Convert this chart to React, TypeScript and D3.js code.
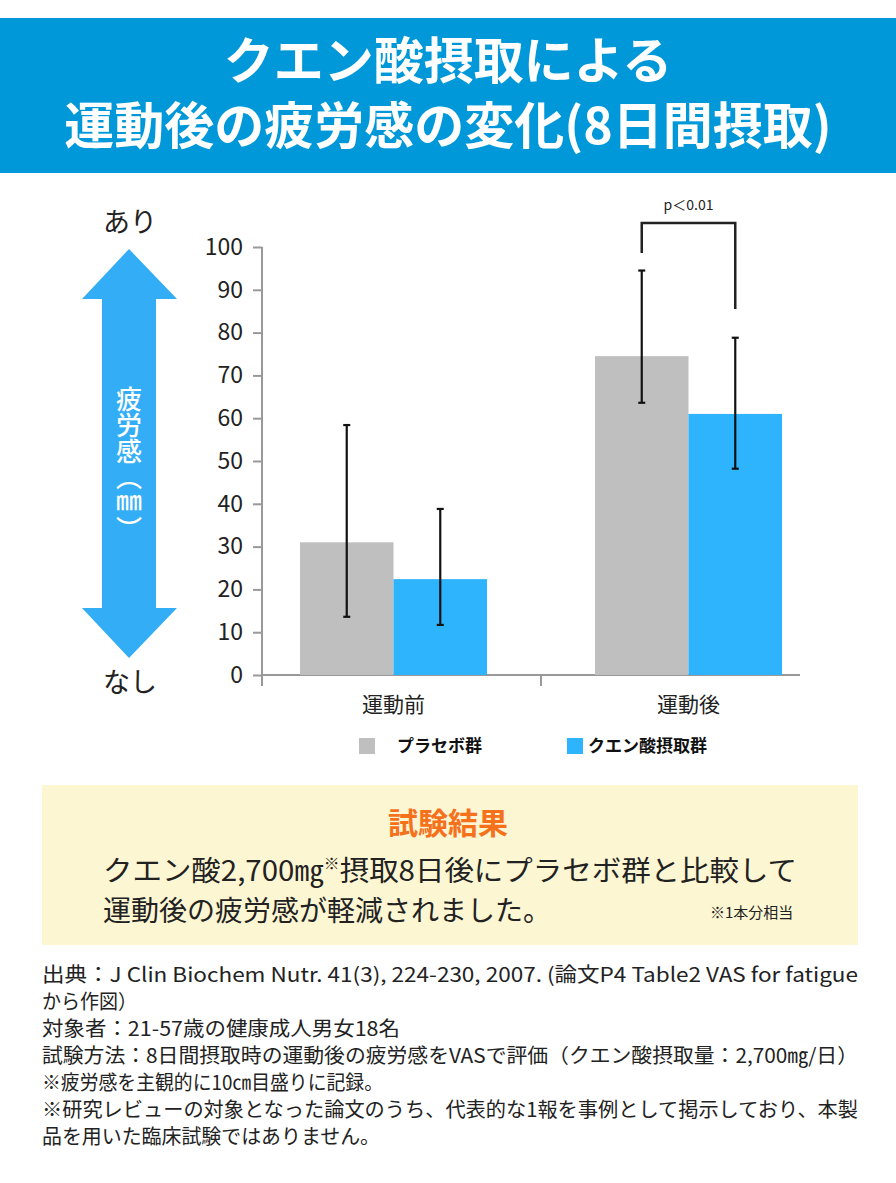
import React, { useEffect, useRef } from "react";
import * as d3 from "d3";

// chart data
const categories = ["運動前", "運動後"];
const seriesNames = ["プラセボ群", "クエン酸摂取群"];
const placeboMean = [31, 74.5];
const placeboLow = [13.6, 63.6];
const placeboHigh = [58.4, 94.5];
const citricMean = [22.4, 61];
const citricLow = [11.7, 48.2];
const citricHigh = [38.8, 78.8];
const yTicks = [0, 10, 20, 30, 40, 50, 60, 70, 80, 90, 100];
const seriesColors = ["#bfbfbf", "#2eb4fd"];

const titleLines = ["クエン酸摂取による", "運動後の疲労感の変化(8日間摂取)"];
const resultLines = ["クエン酸2,700㎎", "摂取8日後にプラセボ群と比較して", "運動後の疲労感が軽減されました。"];
const noteLines = [
    "出典：J Clin Biochem Nutr. 41(3), 224-230, 2007. (論文P4 Table2 VAS for fatigue",
    "から作図）",
    "対象者：21-57歳の健康成人男女18名",
    "試験方法：8日間摂取時の運動後の疲労感をVASで評価（クエン酸摂取量：2,700㎎/日）",
    "※疲労感を主観的に10㎝目盛りに記録。",
    "※研究レビューの対象となった論文のうち、代表的な1報を事例として掲示しており、本製",
    "品を用いた臨床試験ではありません。",
];
const noteWidths = [816, 95, 358, 816, 341, 816, 338];

const FONT = "'Noto Sans CJK JP', 'Noto Sans', sans-serif";

const App = () => {
    const ref = useRef<SVGSVGElement>(null);

    useEffect(() => {
        const width = 896;
        const height = 1183;
        const svg = d3.select(ref.current);
        svg.selectAll("*").remove();
        svg.attr("width", width).attr("height", height).style("font-family", FONT);

        // header band
        svg.append("rect").attr("x", 0).attr("y", 18).attr("width", width).attr("height", 155).attr("fill", "#0098d9");
        titleLines.forEach((t, i) => {
            svg.append("text")
                .attr("x", width / 2)
                .attr("y", 79 + i * 65)
                .attr("text-anchor", "middle")
                .attr("fill", "#fff")
                .attr("font-size", 50)
                .attr("font-weight", 700)
                .text(t);
        });

        // scales
        const y = d3.scaleLinear().domain([0, 100]).range([675, 247]);
        const x0 = d3.scaleBand().domain(categories).range([246, 836]).paddingInner(0.366).paddingOuter(0.183);
        const x1 = d3.scaleBand().domain(seriesNames).range([0, x0.bandwidth()]);

        // y axis
        const yAxis = svg.append("g").attr("transform", "translate(262,0)")
            .call(d3.axisLeft(y).tickValues(yTicks).tickSize(9).tickPadding(10));
        yAxis.select(".domain").remove();
        yAxis.selectAll(".tick line").attr("stroke", "#999").attr("stroke-width", 2);
        yAxis.selectAll(".tick text")
            .attr("fill", "#222")
            .attr("font-size", 23)
            .attr("font-family", FONT);
        svg.append("line").attr("x1", 262).attr("x2", 262).attr("y1", y(100)).attr("y2", 686)
            .attr("stroke", "#999").attr("stroke-width", 2);

        // x axis
        svg.append("line").attr("x1", 262).attr("x2", 800).attr("y1", y(0)).attr("y2", y(0))
            .attr("stroke", "#999").attr("stroke-width", 2);
        const sep = ((x0(categories[0]) as number) + x0.bandwidth() + (x0(categories[1]) as number)) / 2;
        svg.append("line").attr("x1", sep).attr("x2", sep).attr("y1", y(0)).attr("y2", y(0) + 11)
            .attr("stroke", "#999").attr("stroke-width", 2);
        categories.forEach((c) => {
            svg.append("text")
                .attr("x", (x0(c) as number) + x0.bandwidth() / 2)
                .attr("y", 712)
                .attr("text-anchor", "middle")
                .attr("fill", "#222")
                .attr("font-size", 21)
                .text(c);
        });

        // bars + error bars
        const series = [
            { name: seriesNames[0], mean: placeboMean, low: placeboLow, high: placeboHigh, color: seriesColors[0] },
            { name: seriesNames[1], mean: citricMean, low: citricLow, high: citricHigh, color: seriesColors[1] },
        ];
        series.forEach((s) => {
            categories.forEach((c, i) => {
                const bx = (x0(c) as number) + (x1(s.name) as number);
                svg.append("rect")
                    .attr("x", bx)
                    .attr("y", y(s.mean[i]))
                    .attr("width", x1.bandwidth())
                    .attr("height", y(0) - y(s.mean[i]))
                    .attr("fill", s.color);
            });
        });
        series.forEach((s) => {
            categories.forEach((c, i) => {
                const cx = (x0(c) as number) + (x1(s.name) as number) + x1.bandwidth() / 2;
                const g = svg.append("g").attr("stroke", "#111").attr("stroke-width", 2.2);
                g.append("line").attr("x1", cx).attr("x2", cx).attr("y1", y(s.high[i])).attr("y2", y(s.low[i]));
                [s.high[i], s.low[i]].forEach((v) => {
                    g.append("line").attr("x1", cx - 3.5).attr("x2", cx + 3.5).attr("y1", y(v)).attr("y2", y(v));
                });
            });
        });

        // significance bracket over 運動後
        const bL = (x0(categories[1]) as number) + (x1(seriesNames[0]) as number) + x1.bandwidth() / 2;
        const bR = (x0(categories[1]) as number) + (x1(seriesNames[1]) as number) + x1.bandwidth() / 2;
        const bracket = d3.line<[number, number]>()([
            [bL, y(98.6)],
            [bL, y(105.6)],
            [bR, y(105.6)],
            [bR, y(85.5)],
        ]);
        svg.append("path").attr("d", bracket).attr("fill", "none").attr("stroke", "#222").attr("stroke-width", 2.5);
        svg.append("text").attr("x", (bL + bR) / 2).attr("y", 210).attr("text-anchor", "middle")
            .attr("fill", "#222").attr("font-size", 14).text("p＜0.01");

        // double arrow
        const arrow = "M129,249 L177,299 L156,299 L156,608 L177,608 L129,658 L82,608 L102,608 L102,299 L82,299 Z";
        svg.append("path").attr("d", arrow).attr("fill", "#33aef6");
        svg.append("text")
            .attr("x", 129).attr("y", 386)
            .style("writing-mode", "vertical-rl")
            .attr("fill", "#fff")
            .attr("font-size", 26)
            .attr("font-weight", 500)
            .text("疲労感（㎜）");
        svg.append("text").attr("x", 130).attr("y", 232).attr("text-anchor", "middle")
            .attr("fill", "#222").attr("font-size", 27).text("あり");
        svg.append("text").attr("x", 130).attr("y", 692).attr("text-anchor", "middle")
            .attr("fill", "#222").attr("font-size", 27).text("なし");

        // legend
        const legendX = [359, 567];
        const legendTextX = [397, 588];
        series.forEach((s, i) => {
            svg.append("rect").attr("x", legendX[i]).attr("y", 738).attr("width", 16).attr("height", 16).attr("fill", s.color);
            svg.append("text").attr("x", legendTextX[i]).attr("y", 752).attr("fill", "#111")
                .attr("font-size", 17).attr("font-weight", 700).text(s.name);
        });

        // result box
        svg.append("rect").attr("x", 42).attr("y", 785).attr("width", 816).attr("height", 160).attr("fill", "#fdf6d3");
        svg.append("text").attr("x", 448).attr("y", 834).attr("text-anchor", "middle")
            .attr("fill", "#f5711c").attr("font-size", 30).attr("font-weight", 700).text("試験結果");
        const r1 = svg.append("text").attr("x", 103).attr("y", 881).attr("fill", "#222").attr("font-size", 28)
            .attr("textLength", 694).attr("lengthAdjust", "spacingAndGlyphs");
        r1.append("tspan").text(resultLines[0]);
        r1.append("tspan").attr("font-size", 15).attr("dy", -12).text("※");
        r1.append("tspan").attr("dy", 12).text(resultLines[1]);
        svg.append("text").attr("x", 103).attr("y", 921).attr("fill", "#222").attr("font-size", 28).text(resultLines[2]);
        svg.append("text").attr("x", 710).attr("y", 918).attr("fill", "#222").attr("font-size", 15).text("※1本分相当");

        // notes
        noteLines.forEach((t, i) => {
            svg.append("text").attr("x", 42).attr("y", 982 + i * 27)
                .attr("fill", "#222").attr("font-size", 20)
                .attr("textLength", noteWidths[i]).attr("lengthAdjust", "spacingAndGlyphs")
                .text(t);
        });
    }, []);

    return (
        <div>
            <style>{`body{margin:0}`}</style>
            <svg ref={ref}></svg>
        </div>
    );
};

export default App;
